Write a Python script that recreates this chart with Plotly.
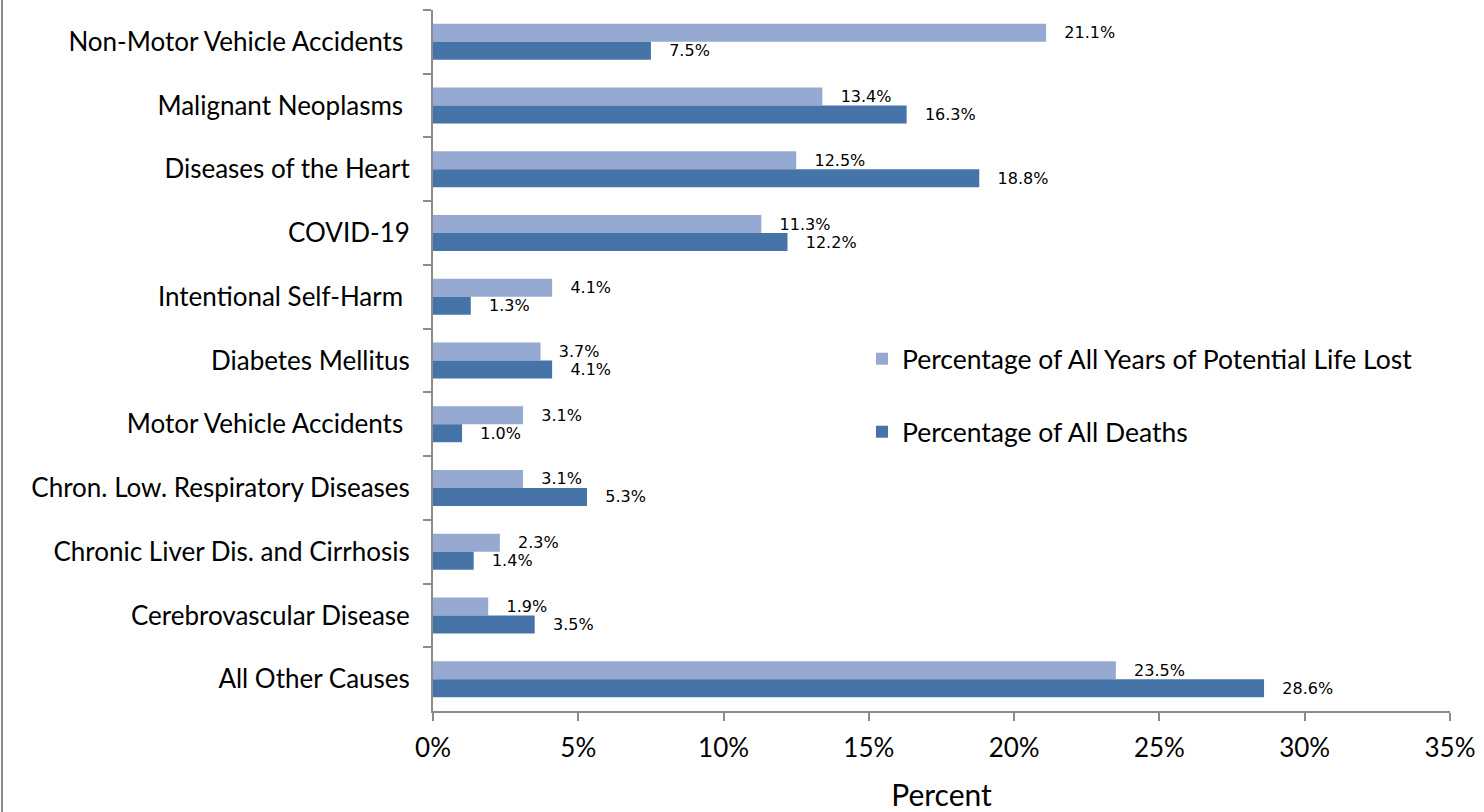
import plotly.graph_objects as go

categories = [
    "Non-Motor Vehicle Accidents\u00a0",
    "Malignant Neoplasms\u00a0",
    "Diseases of the Heart",
    "COVID-19",
    "Intentional Self-Harm\u00a0",
    "Diabetes Mellitus",
    "Motor Vehicle Accidents\u00a0",
    "Chron. Low. Respiratory Diseases",
    "Chronic Liver Dis. and Cirrhosis",
    "Cerebrovascular Disease",
    "All Other Causes",
]
ypll_pct = [21.1, 13.4, 12.5, 11.3, 4.1, 3.7, 3.1, 3.1, 2.3, 1.9, 23.5]
deaths_pct = [7.5, 16.3, 18.8, 12.2, 1.3, 4.1, 1.0, 5.3, 1.4, 3.5, 28.6]
x_ticks = [0, 5, 10, 15, 20, 25, 30, 35]
x_tick_labels = [f"{v}%" for v in x_ticks]

LIGHT = "#95A9D1"
DARK = "#4674A8"
AXIS_GRAY = "#8C8C8C"
FONT = "Lato"
pad = "\u00a0\u00a0\u00a0"

fig = go.Figure()
fig.add_trace(go.Bar(
    y=categories, x=ypll_pct, orientation="h",
    name="Percentage of All Years of Potential Life Lost",
    marker=dict(color=LIGHT, line=dict(width=0)),
    text=[f"{pad}{v:.1f}%" for v in ypll_pct],
    textposition="outside", constraintext="none", cliponaxis=False,
    textfont=dict(family="DejaVu Sans", size=16, color="#000"),
    legend="legend",
))
fig.add_trace(go.Bar(
    y=categories, x=deaths_pct, orientation="h",
    name="Percentage of All Deaths",
    marker=dict(color=DARK, line=dict(width=0)),
    text=[f"{pad}{v:.1f}%" for v in deaths_pct],
    textposition="outside", constraintext="none", cliponaxis=False,
    textfont=dict(family="DejaVu Sans", size=16, color="#000"),
    legend="legend2",
))

L, R, T, B = 433, 34, 10, 101
W, H = 1484, 812
pw = W - L - R
ph = H - T - B

def px_x(p):
    return (p - L) / pw

def px_y(p):
    return (H - B - p) / ph

legend_common = dict(
    font=dict(family=FONT, size=26.5, color="#000"),
    bgcolor="rgba(0,0,0,0)", borderwidth=0,
    xanchor="left", yanchor="middle",
    itemclick=False,
)

fig.update_layout(
    width=W, height=H,
    margin=dict(l=L, r=R, t=T, b=B),
    paper_bgcolor="white", plot_bgcolor="white",
    barmode="group", bargap=0.435, bargroupgap=0,
    font=dict(family=FONT, size=26, color="#000"),
    showlegend=True,
    legend=dict(x=px_x(862), y=px_y(359), **legend_common),
    legend2=dict(x=px_x(862), y=px_y(432), **legend_common),
    xaxis=dict(
        range=[0, 35], tickvals=x_ticks, ticktext=x_tick_labels,
        automargin=False,
        showgrid=False, zeroline=False,
        showline=True, linecolor=AXIS_GRAY, linewidth=2,
        ticks="outside", ticklen=8, tickwidth=2, tickcolor=AXIS_GRAY,
        tickfont=dict(family=FONT, size=26, color="#000"),
        ticklabelstandoff=5,
        title=dict(text="Percent", font=dict(family=FONT, size=30, color="#000"), standoff=28),
    ),
    yaxis=dict(
        type="category", autorange="reversed",
        automargin=False,
        showgrid=False, zeroline=False,
        showline=True, linecolor=AXIS_GRAY, linewidth=2,
        ticks="outside", tickson="boundaries", ticklen=8, tickwidth=2, tickcolor=AXIS_GRAY,
        tickfont=dict(family=FONT, size=26, color="#000"),
        ticklabelstandoff=16,
    ),
    shapes=[dict(
        type="line", xref="paper", yref="paper",
        x0=px_x(2), x1=px_x(2), y0=-0.2, y1=1.1,
        line=dict(color=AXIS_GRAY, width=2),
    )],
)

fig.write_html(
    "out.html",
    config={"displayModeBar": False},
    post_script="document.body.style.margin='0';document.body.style.overflow='hidden';",
)
